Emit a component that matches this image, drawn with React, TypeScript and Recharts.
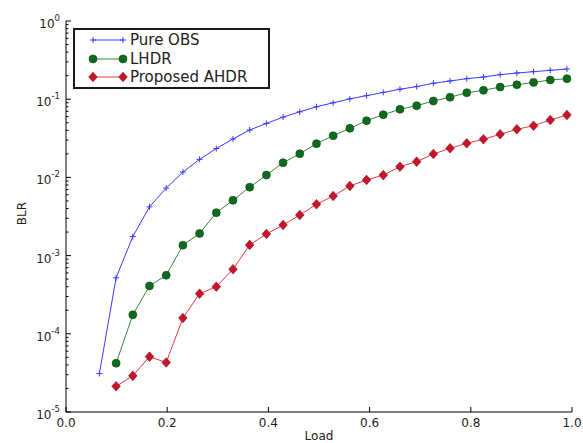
import React from 'react';
import { LineChart, Line, XAxis, YAxis, Legend } from 'recharts';

const loadPureOBS = [0.066, 0.099, 0.132, 0.165, 0.198, 0.231, 0.264, 0.297, 0.33, 0.363, 0.396, 0.429, 0.462, 0.495, 0.528, 0.561, 0.594, 0.627, 0.66, 0.693, 0.726, 0.759, 0.792, 0.825, 0.858, 0.891, 0.924, 0.957, 0.99];
const blrPureOBS = [3.1e-5, 5.2e-4, 1.75e-3, 4.2e-3, 7.3e-3, 1.17e-2, 1.7e-2, 2.34e-2, 3.1e-2, 4.04e-2, 4.9e-2, 5.9e-2, 6.9e-2, 8.0e-2, 9.0e-2, 0.101, 0.111, 0.122, 0.134, 0.145, 0.16, 0.171, 0.183, 0.192, 0.206, 0.216, 0.225, 0.234, 0.243];

const loadHDR = [0.099, 0.132, 0.165, 0.198, 0.231, 0.264, 0.297, 0.33, 0.363, 0.396, 0.429, 0.462, 0.495, 0.528, 0.561, 0.594, 0.627, 0.66, 0.693, 0.726, 0.759, 0.792, 0.825, 0.858, 0.891, 0.924, 0.957, 0.99];
const blrLHDR = [4.2e-5, 1.75e-4, 4.1e-4, 5.6e-4, 1.36e-3, 1.92e-3, 3.54e-3, 5.1e-3, 7.5e-3, 1.07e-2, 1.54e-2, 2.01e-2, 2.7e-2, 3.41e-2, 4.24e-2, 5.31e-2, 6.33e-2, 7.43e-2, 8.26e-2, 9.49e-2, 0.106, 0.121, 0.13, 0.143, 0.153, 0.164, 0.176, 0.183];
const blrAHDR = [2.13e-5, 2.9e-5, 5.1e-5, 4.3e-5, 1.59e-4, 3.26e-4, 4.0e-4, 6.7e-4, 1.37e-3, 1.89e-3, 2.46e-3, 3.3e-3, 4.53e-3, 5.78e-3, 7.76e-3, 9.27e-3, 1.07e-2, 1.37e-2, 1.59e-2, 1.99e-2, 2.36e-2, 2.73e-2, 3.07e-2, 3.56e-2, 4.12e-2, 4.58e-2, 5.42e-2, 6.28e-2];

const xTicks = [0, 0.2, 0.4, 0.6, 0.8, 1.0];
const yTicks: number[] = [];
for (let e = -5; e <= 0; e++) {
  for (let m = 1; m <= 9; m++) {
    if (e === 0 && m > 1) break;
    yTicks.push(Number((m * Math.pow(10, e)).toPrecision(3)));
  }
}

const seriesNames = ['Pure OBS', 'LHDR', 'Proposed AHDR'];

const dataPure = loadPureOBS.map((x, i) => ({ x, y: blrPureOBS[i] }));
const dataLHDR = loadHDR.map((x, i) => ({ x, y: blrLHDR[i] }));
const dataAHDR = loadHDR.map((x, i) => ({ x, y: blrAHDR[i] }));

const FONT = '"DejaVu Sans", sans-serif';
const BLUE = '#3a3aff';
const GREEN_LINE = '#2f8a3a';
const GREEN_DOT = '#0f6a1f';
const RED_LINE = '#e43a44';
const RED_DOT = '#c8142a';
const TXT = '#222';

const PlusMark = ({ cx, cy, color }: any) => (
  <path d={`M${cx - 3},${cy}H${cx + 3}M${cx},${cy - 3}V${cy + 3}`} stroke={color} strokeWidth={1} fill="none" />
);
const CircleMark = ({ cx, cy }: any) => (
  <circle cx={cx} cy={cy} r={4} fill={GREEN_DOT} stroke="#0a4a14" strokeWidth={0.6} />
);
const DiamondMark = ({ cx, cy }: any) => (
  <path d={`M${cx},${cy - 4.8}L${cx + 4.3},${cy}L${cx},${cy + 4.8}L${cx - 4.3},${cy}Z`} fill={RED_DOT} stroke="#8a0a18" strokeWidth={0.6} />
);

const isMajor = (v: number) => {
  const l = Math.log10(v);
  return Math.abs(l - Math.round(l)) < 1e-6;
};

const YTickLeft = (props: any) => {
  const { x, y, payload } = props;
  const v = payload.value;
  const major = isMajor(v);
  const len = major ? 5 : 2.5;
  const e = Math.round(Math.log10(v));
  return (
    <g>
      <line x1={x} y1={y} x2={x + len} y2={y} stroke="#000" strokeWidth={1} />
      {major && (
        <text x={x - 6} y={y + 7} textAnchor="end" fontFamily={FONT} fontSize={12} fill={TXT}>
          10<tspan dy={-7} fontSize={8.5}>{e === 0 ? '0' : String(e)}</tspan>
        </text>
      )}
    </g>
  );
};

const YTickRight = (props: any) => {
  const { x, y, payload } = props;
  const len = isMajor(payload.value) ? 5 : 2.5;
  return <line x1={x} y1={y} x2={x - len} y2={y} stroke="#000" strokeWidth={1} />;
};

const XTickBottom = (props: any) => {
  const { x, y, payload } = props;
  return (
    <g>
      <line x1={x} y1={y} x2={x} y2={y - 5} stroke="#000" strokeWidth={1} />
      <text x={x} y={y + 15} textAnchor="middle" fontFamily={FONT} fontSize={12} fill={TXT}>
        {Number(payload.value).toFixed(1)}
      </text>
    </g>
  );
};

const XTickTop = (props: any) => {
  const { x, y } = props;
  return <line x1={x} y1={y} x2={x} y2={y + 5} stroke="#000" strokeWidth={1} />;
};

const LegendContent = () => {
  const items = [
    { name: seriesNames[0], kind: 'plus' },
    { name: seriesNames[1], kind: 'circle' },
    { name: seriesNames[2], kind: 'diamond' },
  ];
  return (
    <div
      style={{
        border: '2px solid #1a1a1a',
        background: '#fff',
        width: 193,
        height: 56,
        boxSizing: 'content-box',
        fontFamily: FONT,
        fontSize: 15,
        color: TXT,
        paddingTop: 1,
      }}
    >
      {items.map((it) => (
        <div key={it.name} style={{ display: 'flex', alignItems: 'center', height: 18.5, lineHeight: '18.5px' }}>
          <svg width={55} height={18} style={{ display: 'block' }}>
            {it.kind === 'plus' && (
              <g>
                <line x1={18} y1={9} x2={48} y2={9} stroke={BLUE} strokeWidth={1} />
                <PlusMark cx={18} cy={9} color={BLUE} />
                <PlusMark cx={48} cy={9} color={BLUE} />
              </g>
            )}
            {it.kind === 'circle' && (
              <g>
                <line x1={18} y1={9} x2={48} y2={9} stroke={GREEN_LINE} strokeWidth={1} />
                <CircleMark cx={18} cy={9} />
                <CircleMark cx={48} cy={9} />
              </g>
            )}
            {it.kind === 'diamond' && (
              <g>
                <line x1={18} y1={9} x2={48} y2={9} stroke={RED_LINE} strokeWidth={1} />
                <DiamondMark cx={18} cy={9} />
                <DiamondMark cx={48} cy={9} />
              </g>
            )}
          </svg>
          <span style={{ whiteSpace: 'nowrap' }}>{it.name}</span>
        </div>
      ))}
    </div>
  );
};

export default function App() {
  return (
    <div style={{ position: 'absolute', left: 0, top: 0, width: 583, height: 443, background: '#fff' }}>
      <LineChart width={583} height={443} margin={{ top: 21, right: 11, left: 6, bottom: 0 }}>
        <XAxis
          xAxisId="b"
          dataKey="x"
          type="number"
          domain={[0, 1]}
          ticks={xTicks}
          interval={0}
          allowDataOverflow
          height={31}
          tickSize={0}
          tickMargin={0}
          tickLine={false}
          axisLine={{ stroke: '#000', strokeWidth: 1 }}
          tick={<XTickBottom />}
          label={{
            content: (p: any) => {
              const vb = p.viewBox || {};
              return (
                <text x={vb.x + vb.width / 2} y={vb.y + 28} textAnchor="middle" fontFamily={FONT} fontSize={12} fill={TXT}>
                  Load
                </text>
              );
            },
          }}
        />
        <XAxis
          xAxisId="t"
          orientation="top"
          dataKey="x"
          type="number"
          domain={[0, 1]}
          ticks={xTicks}
          interval={0}
          allowDataOverflow
          height={0}
          tickSize={0}
          tickMargin={0}
          tickLine={false}
          axisLine={{ stroke: '#000', strokeWidth: 1 }}
          tick={<XTickTop />}
        />
        <YAxis
          yAxisId="l"
          type="number"
          scale="log"
          domain={[1e-5, 1]}
          ticks={yTicks}
          interval={0}
          allowDataOverflow
          width={60}
          tickSize={0}
          tickMargin={0}
          tickLine={false}
          axisLine={{ stroke: '#000', strokeWidth: 1 }}
          tick={<YTickLeft />}
          label={{
            content: (p: any) => {
              const vb = p.viewBox || {};
              const cx = 22;
              const cy = vb.y + vb.height / 2 - 3;
              return (
                <text x={cx} y={cy} textAnchor="middle" dominantBaseline="central" transform={`rotate(-90 ${cx} ${cy})`} fontFamily={FONT} fontSize={12} fill={TXT}>
                  BLR
                </text>
              );
            },
          }}
        />
        <YAxis
          yAxisId="r"
          orientation="right"
          type="number"
          scale="log"
          domain={[1e-5, 1]}
          ticks={yTicks}
          interval={0}
          allowDataOverflow
          width={0}
          tickSize={0}
          tickMargin={0}
          tickLine={false}
          axisLine={{ stroke: '#000', strokeWidth: 1 }}
          tick={<YTickRight />}
        />
        <Legend
          layout="horizontal"
          verticalAlign="middle"
          align="center"
          content={<LegendContent />}
          wrapperStyle={{ position: 'absolute', left: 73, top: 28, width: 'auto', height: 'auto' }}
        />
        <Line
          xAxisId="b"
          yAxisId="l"
          data={dataPure}
          dataKey="y"
          name={seriesNames[0]}
          stroke={BLUE}
          strokeWidth={1}
          isAnimationActive={false}
          dot={(p: any) => <PlusMark key={`p${p.index}`} cx={p.cx} cy={p.cy} color={BLUE} />}
        />
        <Line
          xAxisId="b"
          yAxisId="l"
          data={dataLHDR}
          dataKey="y"
          name={seriesNames[1]}
          stroke={GREEN_LINE}
          strokeWidth={1}
          isAnimationActive={false}
          dot={(p: any) => <CircleMark key={`g${p.index}`} cx={p.cx} cy={p.cy} />}
        />
        <Line
          xAxisId="b"
          yAxisId="l"
          data={dataAHDR}
          dataKey="y"
          name={seriesNames[2]}
          stroke={RED_LINE}
          strokeWidth={1}
          isAnimationActive={false}
          dot={(p: any) => <DiamondMark key={`r${p.index}`} cx={p.cx} cy={p.cy} />}
        />
      </LineChart>
    </div>
  );
}
